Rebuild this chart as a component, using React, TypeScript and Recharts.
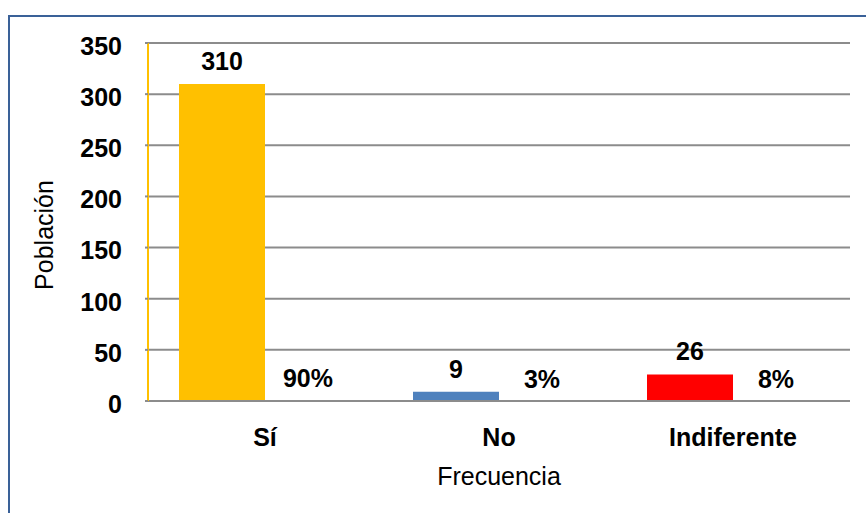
import React from 'react';
import { BarChart, Bar, XAxis, YAxis, CartesianGrid, Cell, LabelList } from 'recharts';

const categories = ['Sí', 'No', 'Indiferente'];
const frecuencia = [310, 9, 26];
const porcentaje = [0.9, 0.03, 0.08];
const barColors = ['#FFC000', '#4F81BD', '#FF0000'];
const yTicks = [0, 50, 100, 150, 200, 250, 300, 350];

const data = categories.map((name, i) => ({
  name,
  frecuencia: frecuencia[i],
  porcentaje: porcentaje[i],
}));

const FONT = 'Arial, "Liberation Sans", sans-serif';

const pct = (v: any) => `${Math.round(Number(v) * 100)}%`;

export default function App() {
  return (
    <div style={{ position: 'fixed', left: 0, top: 0, width: 866, height: 513, background: '#fff', overflow: 'hidden', fontFamily: FONT }}>
      <div style={{ position: 'absolute', left: 8, top: 15, width: 900, height: 600, border: '2px solid #3A6198', boxSizing: 'border-box' }} />
      <div style={{ position: 'absolute', left: 0, top: 0 }}>
        <BarChart
          width={866}
          height={513}
          data={data}
          margin={{ top: 43, right: 16, left: 88, bottom: 52 }}
          barCategoryGap={31}
          barGap={0}
        >
          <CartesianGrid vertical={false} stroke="#8C8C8C" strokeWidth={2} />
          <XAxis
            dataKey="name"
            height={60}
            axisLine={{ stroke: '#8C8C8C', strokeWidth: 2 }}
            tickLine={false}
            tickSize={0}
            tickMargin={27}
            tick={{ fill: '#000', fontSize: 25, fontWeight: 'bold', fontFamily: FONT }}
            label={{
              content: (props: any) => {
                const vb = props.viewBox;
                return (
                  <text x={vb.x + vb.width / 2} y={485} textAnchor="middle" fontSize={25} fontFamily={FONT} fill="#000">
                    Frecuencia
                  </text>
                );
              },
            }}
          />
          <YAxis
            width={60}
            domain={[0, 350]}
            ticks={yTicks}
            interval={0}
            axisLine={{ stroke: '#FFC000', strokeWidth: 2 }}
            tickLine={{ stroke: '#8C8C8C', strokeWidth: 2 }}
            tickSize={3}
            tickMargin={23}
            tick={{ fill: '#000', fontSize: 25, fontWeight: 'bold', fontFamily: FONT, dy: 3 }}
            label={{
              content: () => (
                <text x={53} y={235} transform="rotate(-90, 53, 235)" textAnchor="middle" fontSize={25} fontFamily={FONT} fill="#000">
                  Población
                </text>
              ),
            }}
          />
          <Bar dataKey="frecuencia" isAnimationActive={false}>
            {data.map((d, i) => (
              <Cell key={d.name} fill={barColors[i]} />
            ))}
            <LabelList dataKey="frecuencia" position="top" offset={14} fill="#000" fontSize={25} fontWeight="bold" fontFamily={FONT} />
          </Bar>
          <Bar dataKey="porcentaje" fill="#A6A6A6" isAnimationActive={false}>
            <LabelList dataKey="porcentaje" position="top" offset={13} formatter={pct} fill="#000" fontSize={25} fontWeight="bold" fontFamily={FONT} />
          </Bar>
        </BarChart>
      </div>
    </div>
  );
}
